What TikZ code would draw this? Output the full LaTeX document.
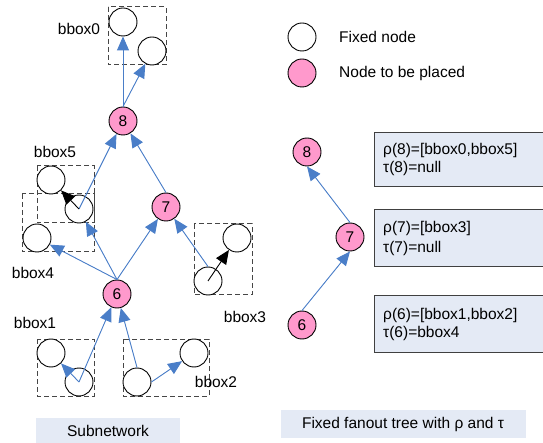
\documentclass[tikz,border=0pt]{standalone}
\usepackage{fontspec}
\setmainfont{Liberation Sans}
\usetikzlibrary{arrows.meta}
\definecolor{pinkn}{RGB}{255,153,204}
\definecolor{arrblue}{RGB}{74,126,200}
\definecolor{boxfill}{RGB}{228,234,245}
\definecolor{dashgray}{RGB}{70,70,70}
\tikzset{
  fixed/.style={circle,draw=black,line width=0.9pt,fill=white,minimum size=28pt,inner sep=0pt},
  placed/.style={circle,draw=black,line width=0.9pt,fill=pinkn,minimum size=28pt,inner sep=0pt,font=\fontsize{15.5}{18}\selectfont},
  bb/.style={draw=dashgray,dash pattern=on 5pt off 3pt,line width=1pt},
  barr/.style={draw=arrblue,line width=0.9pt,-{Triangle[length=14pt,width=12pt]},fill=arrblue},
  karr/.style={draw=black,line width=0.9pt,-{Triangle[length=14pt,width=12pt]}},
  lbl/.style={font=\fontsize{15.5}{18}\selectfont,inner sep=0pt},
  info/.style={draw=black!75,line width=0.9pt,fill=boxfill},
}
\begin{document}
\begin{tikzpicture}[x=1pt,y=-1pt]
\useasboundingbox (0,0) rectangle (543,443);
\clip (0,0) rectangle (543,443);
% bounding boxes
\draw[bb] (108,7) rectangle (166,65);
\draw[bb] (37,166) rectangle (94,223);
\draw[bb] (22,194) rectangle (94,252);
\draw[bb] (194,224) rectangle (252,295);
\draw[bb] (37,339) rectangle (94,396);
\draw[bb] (123,339) rectangle (209,396);
% fixed circles
\node[fixed] (b0a) at (123,22) {};
\node[fixed] (b0b) at (152,51) {};
\node[fixed] (b5a) at (51,180) {};
\node[fixed] (b5b) at (79,209) {};
\node[fixed] (b4) at (37,238) {};
\node[fixed] (b3b) at (237,238) {};
\node[fixed] (b3a) at (208,281) {};
\node[fixed] (b1a) at (51,353) {};
\node[fixed] (b1b) at (79,382) {};
\node[fixed] (b2a) at (137,382) {};
\node[fixed] (b2b) at (194,353) {};
% placed nodes
\node[placed] (n8) at (123,121) {8};
\node[placed] (n7) at (166,207) {7};
\node[placed] (n6) at (117,294) {6};
% labels
\node[lbl] (l0) at (79,29) {bbox0};
\node[lbl] (l5) at (55,152) {bbox5};
\node[lbl] (l4) at (33,273) {bbox4};
\node[lbl] (l3) at (245,317) {bbox3};
\node[lbl] (l1) at (35,323) {bbox1};
\node[lbl] (l2) at (216,382) {bbox2};
% blue arrows
\draw[barr] (n8.north) -- (b0a);
\draw[barr] (n8.north) -- (b0b);
\draw[barr] (b5b.center) -- (n8);
\draw[barr] (n7.north) -- (n8);
\draw[barr] (n6.north) -- (b4);
\draw[barr] (n6.north) -- (b5b);
\draw[barr] (n6.north) -- (n7);
\draw[barr] (b3a.north) -- (n7);
\draw[barr] (b1b.center) -- (n6);
\draw[barr] (b1b.center) -- (b1a);
\draw[barr] (b2a.north) -- (n6);
\draw[barr] (b2a.east) -- (b2b);
% black arrows
\draw[karr] (b3a.center) -- (b3b);
\draw[karr] (b5b.center) -- (b5a);
% captions
\node[lbl,fill=boxfill,minimum width=144pt,minimum height=26pt] (cap1) at (108,431) {Subnetwork};
\node[lbl,fill=boxfill,minimum width=245pt,minimum height=28pt] (cap2) at (403,424) {Fixed fanout tree with ρ and τ};
% legend
\node[fixed] (lg1) at (302,37) {};
\node[placed] (lg2) at (302,73) {};
\node[lbl,anchor=west] (lgt1) at (339,37) {Fixed node};
\node[lbl,anchor=west] (lgt2) at (339,73) {Node to be placed};
% tree
\node[placed] (t8) at (307,152) {8};
\node[placed] (t7) at (350,237) {7};
\node[placed] (t6) at (302,325) {6};
\draw[barr] (t7.north) -- (t8.south);
\draw[barr] (t6.north) -- (t7.south);
% info boxes
\draw[info] (374,132) rectangle (560,186);
\draw[info] (374,209) rectangle (560,266);
\draw[info] (374,295) rectangle (560,352);
\node[lbl,anchor=west] (i8a) at (383,150) {ρ(8)=[bbox0,bbox5]};
\node[lbl,anchor=west] (i8b) at (383,168) {τ(8)=null};
\node[lbl,anchor=west] (i7a) at (383,228) {ρ(7)=[bbox3]};
\node[lbl,anchor=west] (i7b) at (383,248) {τ(7)=null};
\node[lbl,anchor=west] (i6a) at (383,315) {ρ(6)=[bbox1,bbox2]};
\node[lbl,anchor=west] (i6b) at (383,333) {τ(6)=bbox4};
\end{tikzpicture}
\end{document}
